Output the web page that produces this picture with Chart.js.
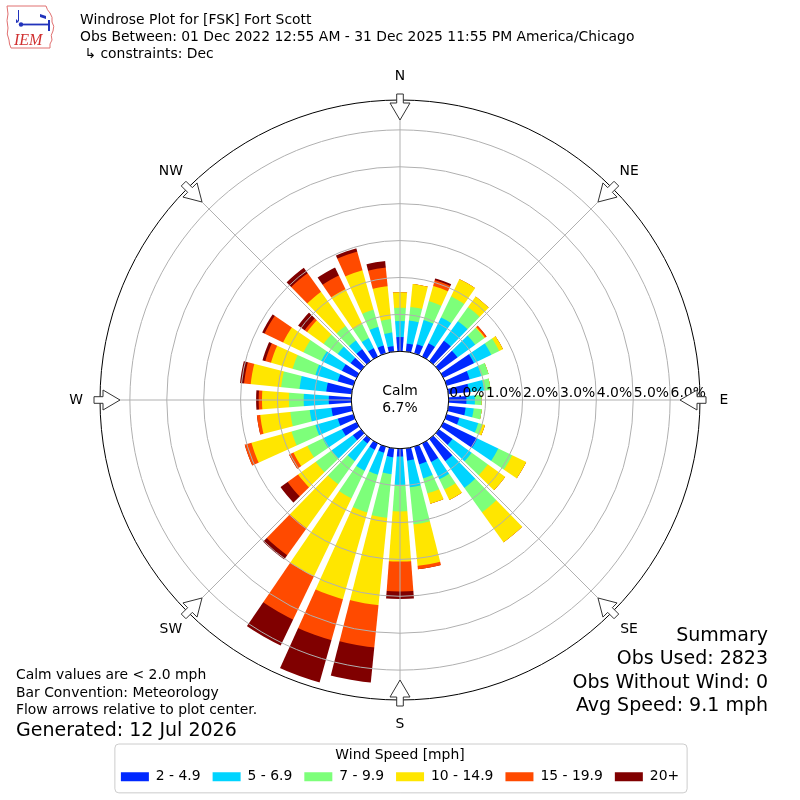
<!DOCTYPE html>
<html>
<head>
<meta charset="utf-8">
<title>Windrose Plot for [FSK] Fort Scott</title>
<script src="https://cdn.jsdelivr.net/npm/chart.js@4.4.1/dist/chart.umd.min.js"></script>
<style>
  html, body { margin: 0; padding: 0; background: #fff; }
  #wrap { position: relative; width: 800px; height: 800px; font-family: "DejaVu Sans", sans-serif; color: #000; }
  #chart { position: absolute; left: 0; top: 0; }
  .txt { position: absolute; white-space: nowrap; }
  #head { left: 80px; top: 11px; font-size: 13.9px; line-height: 17px; }
  #notes { left: 16px; top: 666px; font-size: 13.9px; line-height: 17.5px; }
  #gen { left: 16px; top: 718px; font-size: 19px; line-height: 22px; }
  #summary { right: 32px; top: 623px; font-size: 19px; line-height: 23.3px; text-align: right; }
  #logo { position: absolute; left: 0; top: 0; }
</style>
</head>
<body>
<div id="wrap">
  <canvas id="chart" width="800" height="800"></canvas>
  <svg id="logo" width="60" height="52" viewBox="0 0 60 52">
    <path d="M7,6 L46,6 Q47,10 50,13 Q53,17 52,22 Q55,26 53,31 Q50,35 52,40 Q49,44 50,48 L11,48 Q9,44 9,40 Q6,34 8,28 Q6,20 8,14 Z"
          fill="#fff" stroke="#e07070" stroke-width="1"/>
    <line x1="18.5" y1="10" x2="18.5" y2="21" stroke="#2233bb" stroke-width="1"/>
    <path d="M16,19 L19,22 L16,23 Z" fill="#2233bb"/>
    <circle cx="21" cy="24.5" r="2.2" fill="#2233bb"/>
    <line x1="21" y1="24.5" x2="48" y2="24.5" stroke="#2233bb" stroke-width="1.8"/>
    <path d="M40,14 L46,16 L46,19 L40,17 Z" fill="#2233bb"/>
    <line x1="49" y1="20" x2="49" y2="31" stroke="#2233bb" stroke-width="2"/>
    <text x="14" y="45" font-family="Liberation Serif, serif" font-style="italic" font-size="16" fill="#d03030">IEM</text>
  </svg>
  <div id="head" class="txt">Windrose Plot for [FSK] Fort Scott<br>Obs Between: 01 Dec 2022 12:55 AM - 31 Dec 2025 11:55 PM America/Chicago<br>&nbsp;↳ constraints: Dec</div>
  <div id="notes" class="txt">Calm values are &lt; 2.0 mph<br>Bar Convention: Meteorology<br>Flow arrows relative to plot center.</div>
  <div id="gen" class="txt">Generated: 12 Jul 2026</div>
  <div id="summary" class="txt">Summary<br>Obs Used: 2823<br>Obs Without Wind: 0<br>Avg Speed: 9.1 mph</div>
</div>
<script>
// direction each bar points to (degrees, wind from)
const directions = [0, 10, 20, 30, 40, 50, 60, 70, 80, 90, 100, 110, 120, 130, 140, 150, 160, 170,
                    180, 190, 200, 210, 220, 230, 240, 250, 260, 270, 280, 290, 300, 310, 320, 330, 340, 350];

const speedBins = ['2 - 4.9', '5 - 6.9', '7 - 9.9', '10 - 14.9', '15 - 19.9', '20+'];
const speedColors = ['#0028ff', '#00d4ff', '#7dff7a', '#ffe600', '#ff4a00', '#800000'];

// percent of observations per direction, one list per speed bin
const pct2to5 = [0.39, 0.22, 0.26, 0.40, 0.68, 0.62, 0.92, 0.65, 0.56, 0.48, 0.47, 0.36, 1.02, 0.45, 0.74, 0.56, 0.50, 0.33,
                 0.21, 0.24, 0.17, 0.19, 0.15, 0.27, 0.44, 0.44, 0.55, 0.61, 0.69, 0.44, 0.44, 0.35, 0.40, 0.25, 0.22, 0.15];
const pct5to7 = [0.43, 0.63, 0.68, 0.78, 0.65, 0.59, 0.52, 0.33, 0.41, 0.23, 0.22, 0.53, 0.63, 0.64, 0.89, 0.52, 0.39, 0.73,
                 0.77, 0.46, 0.62, 0.63, 0.59, 0.71, 0.58, 0.63, 0.59, 0.68, 0.73, 0.63, 0.62, 0.43, 0.29, 0.31, 0.53, 0.37];
const pct7to10 = [0.36, 0.37, 0.53, 0.63, 0.47, 0.30, 0.24, 0.20, 0.18, 0.18, 0.22, 0.12, 0.42, 0.54, 0.82, 0.31, 0.43, 1.01,
                  0.72, 1.19, 1.06, 0.83, 0.77, 0.53, 0.46, 0.67, 0.53, 0.40, 0.50, 0.64, 0.54, 0.47, 0.48, 0.42, 0.48, 0.37];
const pct10to15 = [0.42, 0.62, 0.43, 0.52, 0.35, 0.03, 0.11, 0, 0, 0, 0, 0.07, 0.42, 0.58, 1.00, 0.31, 0.29, 1.13,
                   1.36, 2.38, 2.45, 2.35, 1.47, 0.59, 0.42, 1.13, 0.82, 0.73, 0.83, 0.61, 0.61, 0.55, 1.14, 1.05, 1.11, 0.89];
const pct15to20 = [0, 0, 0.16, 0, 0, 0.05, 0, 0, 0, 0, 0, 0, 0, 0, 0, 0, 0, 0.09,
                   0.81, 1.15, 1.15, 1.30, 0.90, 0.35, 0.13, 0.19, 0.09, 0.09, 0.18, 0.16, 0.56, 0.08, 0.62, 0.41, 0.53, 0.51];
const pct20up = [0, 0, 0.05, 0, 0, 0, 0, 0, 0, 0, 0, 0, 0, 0, 0, 0, 0, 0,
                 0.20, 0.96, 1.19, 0.78, 0.14, 0.24, 0, 0, 0, 0.07, 0.11, 0.08, 0.07, 0.22, 0.18, 0.24, 0.09, 0.18];

const calmPct = 6.7;
const tickValues = [0, 1, 2, 3, 4, 5, 6];
const compassLabels = ['N', 'NE', 'E', 'SE', 'S', 'SW', 'W', 'NW'];

// radial axis: the calm circle sits below 0 %
const rMin = -1.32;
const rMax = 6.81;

Chart.defaults.font.family = '"DejaVu Sans", sans-serif';
Chart.defaults.color = '#000';

// stack the bins: each dataset is the running total, drawn big-to-small
const binSeries = [pct2to5, pct5to7, pct7to10, pct10to15, pct15to20, pct20up];
let running = directions.map(() => 0);
const datasets = binSeries.map((series, k) => {
    running = running.map((v, i) => v + series[i]);
    return {
        label: speedBins[k],
        data: running.slice(),
        backgroundColor: speedColors[k],
        borderWidth: 0
    };
});

const windroseDecor = {
    id: 'windroseDecor',
    afterDatasetsDraw(chart) {
        const scale = chart.scales.r;
        const ctx = chart.ctx;
        const cx = scale.xCenter;
        const cy = scale.yCenter;
        const rOuter = scale.drawingArea;
        const rCalm = scale.getDistanceFromCenterForValue(0);
        const at = (deg, r, s = 0) => {
            const a = deg * Math.PI / 180;
            return [cx + r * Math.sin(a) + s * Math.cos(a), cy - r * Math.cos(a) + s * Math.sin(a)];
        };

        ctx.save();

        // white gaps between neighbouring bars (widen a little outward)
        ctx.fillStyle = '#fff';
        const gapSlope = Math.tan(0.7 * Math.PI / 180);
        const rEnd = rOuter - 2;
        directions.forEach(d => {
            const b = d + 5;
            const wOut = 1 + rEnd * gapSlope;
            const quad = [at(b, 0, -1), at(b, rEnd, -wOut), at(b, rEnd, wOut), at(b, 0, 1)];
            ctx.beginPath();
            quad.forEach(([x, y], j) => (j === 0 ? ctx.moveTo(x, y) : ctx.lineTo(x, y)));
            ctx.closePath();
            ctx.fill();
        });

        // rings and spokes on top of the bars
        ctx.strokeStyle = '#b0b0b0';
        ctx.lineWidth = 1;
        tickValues.forEach(v => {
            ctx.beginPath();
            ctx.arc(cx, cy, scale.getDistanceFromCenterForValue(v), 0, 2 * Math.PI);
            ctx.stroke();
        });
        compassLabels.forEach((_, i) => {
            const [x, y] = at(i * 45, rOuter);
            ctx.beginPath();
            ctx.moveTo(cx, cy);
            ctx.lineTo(x, y);
            ctx.stroke();
        });

        ctx.strokeStyle = '#000';
        ctx.beginPath();
        ctx.arc(cx, cy, rOuter, 0, 2 * Math.PI);
        ctx.stroke();

        // calm circle
        ctx.fillStyle = '#fff';
        ctx.beginPath();
        ctx.arc(cx, cy, rCalm, 0, 2 * Math.PI);
        ctx.fill();
        ctx.stroke();

        ctx.fillStyle = '#000';
        ctx.font = '13.9px "DejaVu Sans"';
        ctx.textAlign = 'center';
        ctx.textBaseline = 'middle';
        ctx.fillText('Calm', cx, cy - 9);
        ctx.fillText(calmPct.toFixed(1) + '%', cx, cy + 8);

        // tick labels along the east spoke
        ctx.textAlign = 'left';
        ctx.textBaseline = 'alphabetic';
        tickValues.forEach(v => {
            ctx.fillText(v.toFixed(1) + '%', cx + scale.getDistanceFromCenterForValue(v) + 0.5, cy - 3);
        });

        // flow arrows and compass labels
        ctx.strokeStyle = '#333';
        ctx.lineWidth = 1;
        compassLabels.forEach((lab, i) => {
            const d = i * 45;
            const pts = [[280, 0], [297, 10], [297, 3.3], [306, 3.3], [306, -3.3], [297, -3.3], [297, -10]];
            ctx.beginPath();
            pts.forEach(([r, s], j) => {
                const [x, y] = at(d, r, s);
                if (j === 0) ctx.moveTo(x, y); else ctx.lineTo(x, y);
            });
            ctx.closePath();
            ctx.fillStyle = '#fff';
            ctx.fill();
            ctx.stroke();

            const [lx, ly] = at(d, 324);
            ctx.fillStyle = '#000';
            ctx.textAlign = 'center';
            ctx.textBaseline = 'middle';
            ctx.fillText(lab, lx, ly);
        });

        ctx.restore();
    },
    afterDraw(chart) {
        // frame round the legend
        const lg = chart.legend;
        const hits = lg.legendHitBoxes;
        if (!hits || !hits.length) return;
        const last = hits[hits.length - 1];
        const left = hits[0].left - 6;
        const right = last.left + last.width + 8;
        const itemMid = hits[0].top + hits[0].height / 2;
        const top = lg.top + lg.options.title.padding.top - 4;
        const bottom = itemMid + 16;
        const rad = 4;
        const ctx = chart.ctx;
        ctx.save();
        ctx.strokeStyle = '#cccccc';
        ctx.lineWidth = 1;
        ctx.beginPath();
        ctx.moveTo(left + rad, top);
        ctx.arcTo(right, top, right, bottom, rad);
        ctx.arcTo(right, bottom, left, bottom, rad);
        ctx.arcTo(left, bottom, left, top, rad);
        ctx.arcTo(left, top, right, top, rad);
        ctx.closePath();
        ctx.stroke();
        ctx.restore();
    }
};

const chart = new Chart(document.getElementById('chart'), {
    type: 'polarArea',
    data: {
        labels: directions.map(d => d + '°'),
        datasets: datasets
    },
    options: {
        responsive: false,
        animation: false,
        events: [],
        layout: {
            padding: { top: 100, left: 100, right: 100, bottom: 8 }
        },
        scales: {
            r: {
                min: rMin,
                max: rMax,
                startAngle: -5,
                ticks: { display: false },
                grid: { display: false },
                angleLines: { display: false },
                pointLabels: { display: false }
            }
        },
        plugins: {
            tooltip: { enabled: false },
            legend: {
                position: 'bottom',
                onClick: null,
                title: {
                    display: true,
                    text: 'Wind Speed [mph]',
                    padding: { top: 48, bottom: -4 },
                    font: { size: 13.9, lineHeight: 1 }
                },
                labels: {
                    boxWidth: 28,
                    boxHeight: 9,
                    padding: 12,
                    font: { size: 13.9 },
                    generateLabels: (c) => c.data.datasets.map((ds, i) => ({
                        text: ds.label,
                        fillStyle: ds.backgroundColor,
                        strokeStyle: ds.backgroundColor,
                        lineWidth: 0,
                        hidden: false,
                        datasetIndex: i
                    }))
                }
            }
        }
    },
    plugins: [windroseDecor]
});

// keep the plot square 600x600 centred on the page, whatever the legend needs
chart.options.layout.padding.bottom = 100 - chart.legend.height;
chart.update();
</script>
</body>
</html>
